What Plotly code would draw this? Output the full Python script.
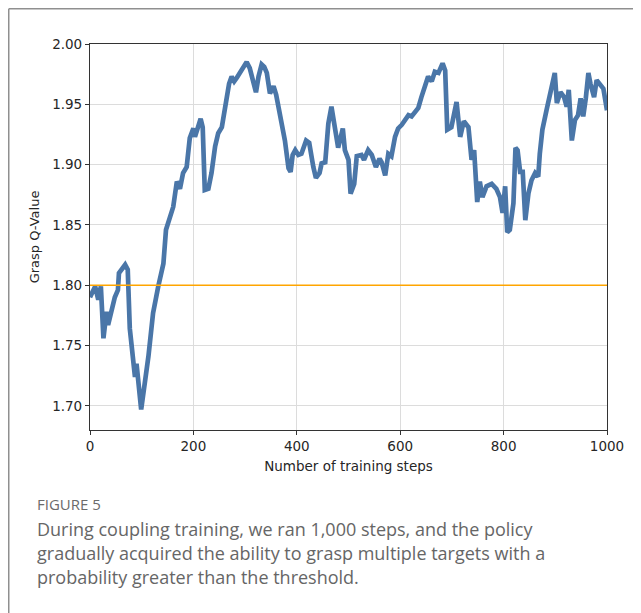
import plotly.graph_objects as go

# ---- data ----
steps = [0, 10, 16, 21, 26, 32, 35, 42, 48, 54, 56, 68, 73, 77, 87, 90, 99, 113, 122, 132,
         142, 147, 151, 161, 168, 174, 180, 187, 193, 200, 203, 208, 214, 218, 222, 229, 235,
         242, 248, 255, 259, 264, 269, 274, 279, 284, 290, 297, 303, 309, 316, 321, 326, 332,
         337, 342, 348, 355, 360, 368, 377, 384, 388, 392, 397, 403, 409, 418, 424, 432, 437,
         444, 448, 455, 461, 467, 474, 480, 489, 493, 500, 504, 511, 516, 525, 530, 538, 545,
         553, 560, 564, 571, 577, 583, 590, 596, 603, 609, 616, 622, 629, 635, 641, 650, 654,
         661, 667, 674, 682, 687, 691, 699, 709, 716, 723, 732, 738, 743, 749, 754, 759, 767,
         777, 786, 793, 798, 803, 807, 812, 819, 823, 827, 832, 837, 842, 848, 854, 861, 867,
         870, 875, 883, 893, 899, 903, 910, 917, 922, 926, 932, 938, 944, 949, 954, 959, 964,
         968, 975, 980, 986, 993, 1000]
q_values = [1.790, 1.799, 1.788, 1.799, 1.756, 1.778, 1.767, 1.782, 1.790, 1.796, 1.810, 1.817,
            1.813, 1.764, 1.724, 1.735, 1.697, 1.741, 1.777, 1.799, 1.818, 1.846, 1.851, 1.865,
            1.886, 1.880, 1.893, 1.898, 1.922, 1.930, 1.923, 1.931, 1.938, 1.931, 1.879, 1.880,
            1.893, 1.915, 1.926, 1.931, 1.943, 1.955, 1.967, 1.973, 1.969, 1.972, 1.976, 1.980,
            1.985, 1.980, 1.967, 1.960, 1.973, 1.983, 1.981, 1.976, 1.959, 1.965, 1.958, 1.940,
            1.920, 1.897, 1.894, 1.908, 1.912, 1.908, 1.909, 1.920, 1.918, 1.898, 1.889, 1.893,
            1.901, 1.902, 1.934, 1.948, 1.929, 1.914, 1.930, 1.912, 1.904, 1.876, 1.884, 1.907,
            1.908, 1.904, 1.912, 1.908, 1.898, 1.905, 1.902, 1.891, 1.909, 1.907, 1.923, 1.930,
            1.933, 1.936, 1.941, 1.940, 1.944, 1.947, 1.956, 1.970, 1.973, 1.969, 1.977, 1.976,
            1.984, 1.978, 1.929, 1.931, 1.952, 1.923, 1.936, 1.931, 1.904, 1.912, 1.869, 1.886,
            1.873, 1.882, 1.884, 1.880, 1.873, 1.860, 1.882, 1.844, 1.846, 1.868, 1.914, 1.912,
            1.894, 1.894, 1.854, 1.876, 1.887, 1.893, 1.890, 1.909, 1.929, 1.945, 1.962, 1.976,
            1.951, 1.960, 1.956, 1.948, 1.962, 1.920, 1.937, 1.941, 1.955, 1.940, 1.955, 1.976,
            1.967, 1.956, 1.970, 1.967, 1.963, 1.945]
threshold = 1.80
x_range = [0, 1000]
y_range = [1.68, 2.00]
x_ticks = [0, 200, 400, 600, 800, 1000]
y_ticks = [1.70, 1.75, 1.80, 1.85, 1.90, 1.95, 2.00]
y_tick_labels = ["1.70", "1.75", "1.80", "1.85", "1.90", "1.95", "2.00"]
x_title = "Number of training steps"
y_title = "Grasp Q-Value"
fig_label = "FIGURE 5"
caption_lines = [
    "During coupling training, we ran 1,000 steps, and the policy",
    "gradually acquired the ability to grasp multiple targets with a",
    "probability greater than the threshold.",
]

# ---- layout geometry (pixels); page has an 8px body margin ----
OFF = 8
W, H = 633, 605
L, R, T, B = 82, 34, 36, 183
pw, ph = W - L - R, H - T - B


def px_x(page_px):
    return (page_px - OFF - L) / pw


def px_y(page_py):
    return (H - B - (page_py - OFF)) / ph


fig = go.Figure()
fig.add_trace(go.Scatter(
    x=steps, y=q_values, mode="lines",
    line=dict(color="#4a76a8", width=4.7),
    showlegend=False, hoverinfo="skip",
))
fig.add_trace(go.Scatter(
    x=x_range, y=[threshold, threshold], mode="lines",
    line=dict(color="#ffa500", width=1.5),
    showlegend=False, hoverinfo="skip",
))

tick_font = dict(family="DejaVu Sans", size=13.5, color="#262626")
title_font = dict(family="DejaVu Sans", size=13.5, color="#262626")

fig.update_xaxes(
    range=x_range, tickvals=x_ticks, ticktext=[str(t) for t in x_ticks],
    showgrid=True, gridcolor="#dcdcdc", gridwidth=1,
    showline=True, linecolor="#333333", linewidth=1.2, mirror=True,
    ticks="outside", ticklen=4, tickcolor="#333333", tickwidth=1,
    tickfont=tick_font, zeroline=False, automargin=False,
    title=dict(text=x_title, font=title_font, standoff=8),
)
fig.update_yaxes(
    range=y_range, tickvals=y_ticks, ticktext=y_tick_labels,
    showgrid=True, gridcolor="#dcdcdc", gridwidth=1,
    showline=True, linecolor="#333333", linewidth=1.2, mirror=True,
    ticks="outside", ticklen=4, tickcolor="#333333", tickwidth=1,
    tickfont=tick_font, zeroline=False, automargin=False,
    title=dict(text=y_title, font=dict(family="DejaVu Sans", size=13, color="#262626"),
               standoff=9),
)

annotations = [dict(
    text=fig_label, xref="paper", yref="paper", x=px_x(35), y=px_y(504),
    xanchor="left", yanchor="middle", showarrow=False,
    font=dict(family="Open Sans", size=15, color="#6b6b6b"),
)]
for i, line in enumerate(caption_lines):
    annotations.append(dict(
        text=line, xref="paper", yref="paper", x=px_x(35), y=px_y(529 + 24 * i),
        xanchor="left", yanchor="middle", showarrow=False,
        font=dict(family="Open Sans", size=18, color="#666666"),
    ))

shapes = [
    dict(type="line", xref="paper", yref="paper",
         x0=px_x(OFF + 0.75), x1=px_x(OFF + W), y0=px_y(OFF + 0.75), y1=px_y(OFF + 0.75),
         line=dict(color="#8f8f8f", width=1.5)),
    dict(type="line", xref="paper", yref="paper",
         x0=px_x(OFF + 0.75), x1=px_x(OFF + 0.75), y0=px_y(OFF + 0.75), y1=px_y(OFF + H),
         line=dict(color="#8f8f8f", width=1.5)),
]

fig.update_layout(
    width=W, height=H,
    margin=dict(l=L, r=R, t=T, b=B, pad=0, autoexpand=False),
    paper_bgcolor="white", plot_bgcolor="white",
    annotations=annotations, shapes=shapes,
    showlegend=False,
)

fig.write_html("out.html")
